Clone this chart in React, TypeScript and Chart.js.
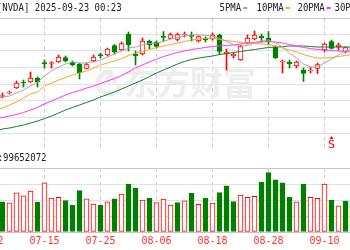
import React, { useEffect, useRef } from 'react';
import { Chart, registerables } from 'chart.js';
Chart.register(...registerables);

const dates = ['07-02','07-03','07-07','07-08','07-09','07-10','07-11','07-14','07-15','07-16','07-17','07-18','07-21','07-22','07-23','07-24','07-25','07-28','07-29','07-30','07-31','08-01','08-04','08-05','08-06','08-07','08-08','08-11','08-12','08-13','08-14','08-15','08-18','08-19','08-20','08-21','08-22','08-25','08-26','08-27','08-28','08-29','09-02','09-03','09-04','09-05','09-08','09-09','09-10','09-11','09-12','09-15','09-16'];

const openP = [160.0,160.8,161.4,162.8,164.8,167.2,167.2,168.8,175.0,174.6,175.2,177.0,175.2,174.4,172.6,175.6,178.2,178.0,181.8,180.0,186.4,178.4,178.4,183.6,183.2,185.6,184.6,184.2,186.0,186.0,183.6,184.6,184.4,186.0,178.4,177.6,176.0,182.8,184.4,185.6,184.8,181.2,175.2,175.2,173.6,172.0,171.6,172.6,180.0,183.4,181.2,179.4,179.2];
const highP = [161.2,162.4,162.8,163.6,167.6,168.0,171.2,169.2,176.0,175.4,178.0,177.6,175.6,174.8,174.8,178.0,178.8,180.8,182.2,183.2,187.2,179.6,184.8,184.0,183.6,187.4,186.8,186.8,187.2,187.2,185.6,185.2,186.8,186.4,180.4,178.8,182.0,186.0,187.6,186.4,187.4,181.6,176.0,176.0,175.6,172.8,173.2,174.8,182.8,184.0,182.8,181.2,181.2];
const lowP = [159.4,160.0,160.8,162.4,164.6,165.2,167.0,165.2,172.8,172.8,175.0,175.2,173.6,168.4,172.4,175.4,176.8,177.6,178.4,179.8,179.6,174.0,178.0,180.4,180.8,183.4,184.4,183.6,185.2,183.6,183.2,183.2,184.0,178.2,172.0,176.8,175.8,182.4,184.0,183.2,182.0,176.6,170.8,172.8,172.8,167.4,170.8,170.6,179.2,180.4,180.0,178.8,178.8];
const closeP = [160.6,161.6,161.8,163.2,166.8,166.8,168.8,167.2,174.4,175.0,177.2,175.6,174.0,170.8,174.2,177.2,177.6,180.4,179.2,182.6,182.0,177.6,183.6,182.0,181.4,185.0,186.2,186.2,186.4,185.4,185.4,184.0,186.0,179.4,179.2,178.4,181.4,184.8,186.0,184.8,183.2,176.8,175.6,174.4,175.2,170.6,172.0,174.2,182.4,180.6,182.0,181.0,180.8];

const ma5 = [159.8,160.4,161.2,161.6,162.8,164.0,165.6,167.2,169.6,171.6,173.2,174.4,175.2,174.8,174.8,175.2,176.0,177.2,178.4,179.6,180.8,181.2,182.0,182.6,182.8,183.4,184.4,185.0,185.6,186.0,186.0,185.8,185.6,184.6,183.4,182.2,181.6,181.8,182.8,183.8,184.0,182.8,181.2,178.8,176.8,174.4,173.2,173.2,174.8,176.4,178.0,179.6,180.4];
const ma10 = [155.2,156.0,156.8,158.0,159.2,160.8,162.4,163.2,165.6,166.8,168.0,169.0,170.0,170.8,171.6,172.8,174.0,174.8,175.6,176.6,177.8,178.8,179.4,180.2,181.0,181.6,182.2,182.8,183.4,184.0,184.4,184.6,184.8,184.2,183.8,183.4,183.0,182.8,182.6,182.4,182.2,181.6,180.8,180.0,179.2,178.2,177.4,176.8,176.8,177.0,177.4,177.8,178.2];
const ma20 = [151.8,152.4,153.0,153.6,154.2,155.0,156.0,157.0,158.4,159.6,160.8,162.0,163.0,163.8,164.8,165.6,166.6,167.6,168.6,169.8,171.2,172.8,174.0,175.2,176.4,177.4,178.2,179.0,179.6,180.2,180.6,181.0,181.4,181.6,181.8,182.0,182.4,182.8,183.0,183.2,183.4,183.2,182.8,182.2,181.6,181.0,180.6,180.2,180.0,179.8,179.6,179.4,179.2];
const ma30 = [147.2,147.6,148.4,148.8,149.4,150.0,150.8,151.6,152.6,153.6,154.8,156.0,157.0,158.0,159.0,160.0,161.2,162.2,163.2,164.4,165.6,166.8,168.0,169.4,170.8,172.0,173.2,174.4,175.4,176.2,176.8,177.2,177.6,178.2,178.6,179.0,179.4,179.8,180.2,180.6,181.0,181.2,181.4,181.6,181.6,181.6,181.4,181.2,181.2,181.2,181.2,181.2,181.2];

// volume in millions of shares; 1 = up day (red hollow), -1 = down day (green)
const volume = [150,150,142,137,184,169,192,139,231,159,163,147,125,194,155,131,125,142,156,178,224,206,150,158,138,154,126,138,146,181,130,158,135,185,216,143,173,163,167,234,278,244,230,163,141,224,163,158,225,150,123,145,139];
const volDir = [1,1,-1,1,1,1,1,-1,1,1,1,-1,-1,-1,1,1,-1,1,-1,1,-1,-1,1,-1,1,1,1,-1,1,-1,1,-1,1,-1,-1,-1,1,1,1,-1,-1,-1,-1,-1,1,-1,1,1,1,-1,1,-1,-1];

const tickLabels = ['07-02','07-15','07-25','08-06','08-18','08-28','09-10'];
const legendNames = ['5PMA','10PMA','20PMA','30PMA'];
const titleText = '[NVDA] 2025-09-23 00:23';
const volumeText = 'VOL:99652072';
const watermark = '东方财富';
const signalText = 'S';
const signalDate = '09-11';

const RED = '#ff0000';
const GREEN = '#008000';
const MA_COLORS = ['#a8a8a8', '#f5a623', '#ff33ff', '#1a7a3a'];
const X_MIN = 11.5 / 7;
const X_MAX = X_MIN + 50;

function narrowText(ctx: CanvasRenderingContext2D, text: string, x: number, y: number, color: string, align: CanvasTextAlign = 'left') {
  ctx.save();
  ctx.font = '11px "DejaVu Sans Mono"';
  ctx.fillStyle = color;
  ctx.textBaseline = 'middle';
  ctx.textAlign = align;
  ctx.translate(x, y);
  ctx.scale(0.82, 1);
  ctx.fillText(text, 0, 0);
  ctx.restore();
}

function xAxis(showLabels: boolean) {
  return {
    type: 'linear' as const,
    min: X_MIN,
    max: X_MAX,
    offset: false,
    afterBuildTicks: (s: any) => {
      s.ticks = tickLabels.map((l) => ({ value: dates.indexOf(l) }));
    },
    afterFit: (s: any) => {
      s.height = showLabels ? 18 : 0;
      s.paddingLeft = 0;
      s.paddingRight = 0;
      s.paddingTop = 0;
      s.paddingBottom = 0;
    },
    grid: { color: '#d0d0d0', lineWidth: 1, drawTicks: false, offset: false },
    border: { display: false, dash: [4, 3] },
    ticks: {
      display: showLabels,
      autoSkip: false,
      maxRotation: 0,
      padding: 3,
      color: '#ff3333',
      font: { family: 'DejaVu Sans Mono', size: 10 },
      callback: (v: any) => dates[v] ?? '',
    },
  };
}

function hGrid(lastIndex: number) {
  return (c: any) => (c.index === 0 || c.index === lastIndex ? '#c6c6c6' : '#e2e2e2');
}

export default function App() {
  const priceRef = useRef<HTMLCanvasElement>(null);
  const volRef = useRef<HTMLCanvasElement>(null);

  useEffect(() => {
    const idx = dates.map((_, j) => j);
    const isUp = idx.map((j) => closeP[j] >= openP[j]);

    const textPlugin = {
      id: 'texts',
      beforeDatasetsDraw(chart: any) {
        const ctx = chart.ctx as CanvasRenderingContext2D;
        ctx.save();
        ctx.fillStyle = '#ededed';
        ctx.strokeStyle = '#ededed';
        ctx.lineWidth = 5;
        ctx.lineCap = 'round';
        ctx.beginPath();
        ctx.arc(109, 83, 11, Math.PI * 0.15, Math.PI * 1.55);
        ctx.stroke();
        ctx.beginPath();
        ctx.arc(111, 81, 4, Math.PI * 0.9, Math.PI * 2.2);
        ctx.stroke();
        ctx.font = 'bold 33px "Noto Sans CJK SC"';
        ctx.textBaseline = 'middle';
        ctx.fillText(watermark, 124, 82);
        ctx.restore();
      },
      afterDraw(chart: any) {
        const ctx = chart.ctx as CanvasRenderingContext2D;
        narrowText(ctx, titleText, -3.2, 8, '#222');
        const lx = [219.5, 256.5, 297.5, 334.5];
        legendNames.forEach((n, k) => {
          narrowText(ctx, n, lx[k], 8, '#222');
          ctx.fillStyle = MA_COLORS[k];
          ctx.fillRect(lx[k] + n.length * 5.43 + 2, 7, 4, 2);
        });
        const sx = chart.scales.x.getPixelForValue(dates.indexOf(signalDate));
        ctx.save();
        ctx.fillStyle = RED;
        ctx.font = '11px "DejaVu Sans"';
        ctx.textAlign = 'center';
        ctx.textBaseline = 'middle';
        ctx.fillText(signalText, sx, 145);
        ctx.beginPath();
        ctx.moveTo(sx, 136);
        ctx.lineTo(sx - 2, 139);
        ctx.lineTo(sx + 2, 139);
        ctx.closePath();
        ctx.fill();
        ctx.restore();
      },
    };

    const wick = {
      type: 'bar' as const,
      data: idx.map((j) => ({ x: j, y: [lowP[j], highP[j]] })),
      backgroundColor: idx.map((j) => (isUp[j] ? RED : GREEN)),
      borderWidth: 0,
      barThickness: 1,
      grouped: false,
      order: 3,
    };
    const body = {
      type: 'bar' as const,
      data: idx.map((j) => ({ x: j, y: [openP[j], closeP[j]] })),
      backgroundColor: idx.map((j) => (isUp[j] ? '#ffffff' : GREEN)),
      borderColor: idx.map((j) => (isUp[j] ? RED : GREEN)),
      borderWidth: 1,
      borderSkipped: false,
      barThickness: 5,
      grouped: false,
      order: 2,
    };
    const maSets = [ma5, ma10, ma20, ma30].map((arr, k) => ({
      type: 'line' as const,
      data: idx.map((j) => ({ x: j, y: arr[j] })),
      borderColor: MA_COLORS[k],
      borderWidth: 1,
      pointRadius: 0,
      tension: 0,
      order: 1,
    }));

    const c1 = new Chart(priceRef.current!, {
      type: 'bar',
      data: { datasets: [wick, body, ...maSets] as any },
      options: {
        responsive: false,
        animation: false,
        devicePixelRatio: 1,
        layout: { padding: { top: 18, bottom: 0, left: 0, right: 0 } },
        plugins: { legend: { display: false }, tooltip: { enabled: false } },
        scales: {
          x: xAxis(false) as any,
          y: {
            type: 'linear',
            min: 140.0,
            max: 192.8,
            afterBuildTicks: (s: any) => {
              s.ticks = Array.from({ length: 9 }, (_, k) => ({ value: s.min + (k * (s.max - s.min)) / 8 }));
            },
            afterFit: (s: any) => {
              s.width = 0;
            },
            ticks: { display: false },
            grid: { color: hGrid(8), drawTicks: false },
            border: { display: false },
          },
        },
      },
      plugins: [textPlugin],
    });

    const volPlugin = {
      id: 'voltext',
      afterDraw(chart: any) {
        narrowText(chart.ctx, volumeText, 46.5, 8, '#222', 'right');
      },
    };

    const c2 = new Chart(volRef.current!, {
      type: 'bar',
      data: {
        datasets: [
          {
            data: idx.map((j) => ({ x: j, y: volume[j] })),
            backgroundColor: idx.map((j) => (volDir[j] > 0 ? '#ffffff' : GREEN)),
            borderColor: idx.map((j) => (volDir[j] > 0 ? RED : GREEN)),
            borderWidth: 1,
            borderSkipped: false,
            barThickness: 5,
          } as any,
        ],
      },
      options: {
        responsive: false,
        animation: false,
        devicePixelRatio: 1,
        layout: { padding: { top: 18, bottom: 0, left: 0, right: 0 } },
        plugins: { legend: { display: false }, tooltip: { enabled: false } },
        scales: {
          x: xAxis(true) as any,
          y: {
            type: 'linear',
            min: 0,
            max: 300,
            afterBuildTicks: (s: any) => {
              s.ticks = [0, 75, 150, 225, 300].map((v) => ({ value: v }));
            },
            afterFit: (s: any) => {
              s.width = 0;
            },
            ticks: { display: false },
            grid: { color: hGrid(4), drawTicks: false },
            border: { display: false },
          },
        },
      },
      plugins: [volPlugin],
    });

    return () => {
      c1.destroy();
      c2.destroy();
    };
  }, []);

  return (
    <div style={{ position: 'fixed', left: 0, top: 0, width: 350, height: 250, overflow: 'hidden', background: '#fff' }}>
      <canvas ref={priceRef} width={350} height={150} style={{ position: 'absolute', left: 0, top: 0 }} />
      <canvas ref={volRef} width={350} height={100} style={{ position: 'absolute', left: 0, top: 150 }} />
    </div>
  );
}
